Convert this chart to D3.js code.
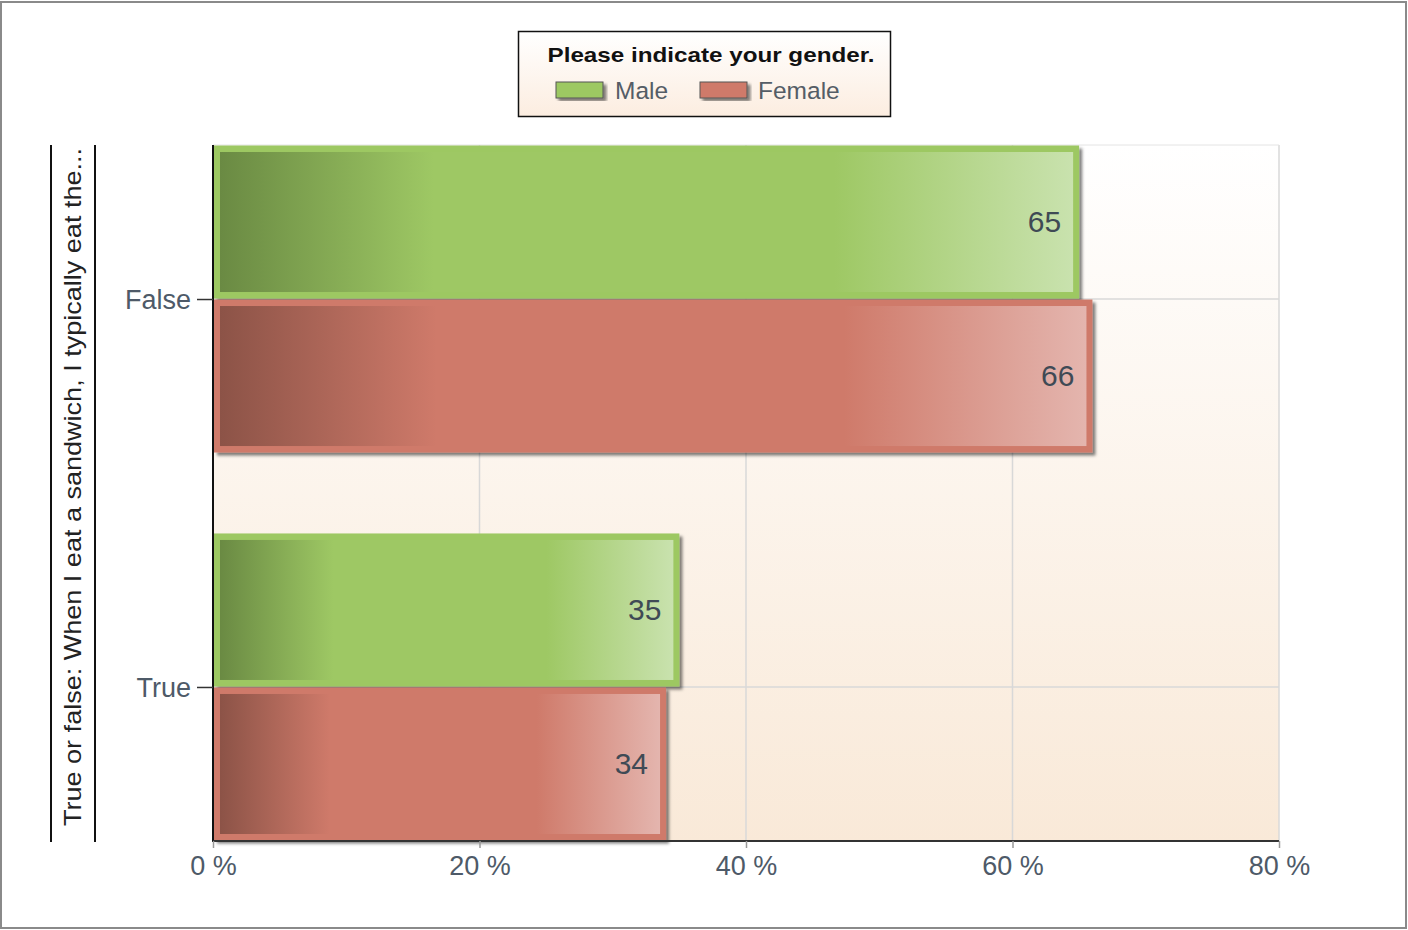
<!DOCTYPE html>
<html><head><meta charset="utf-8">
<script src="https://cdn.jsdelivr.net/npm/d3@7"></script>
<style>html,body{margin:0;padding:0;background:#fff;}svg{display:block;font-family:"Liberation Sans",Arial,sans-serif;}</style>
</head><body>
<script>
const categories = ["False", "True"];
const seriesNames = ["Male", "Female"];
const maleValues = [65, 35];
const femaleValues = [66, 34];
const xTicks = [0, 20, 40, 60, 80];
const legendTitle = "Please indicate your gender.";
const yTitle = "True or false: When I eat a sandwich, I typically eat the...";

const W = 1408, H = 930;
const svg = d3.select("body").append("svg").attr("width", W).attr("height", H);
const defs = svg.append("defs");

const palette = {
  Male:   {border:"#9dc862", dark:"#6a8a43", mid:"#9ec864", light:"#c9e2ae"},
  Female: {border:"#cf7a6a", dark:"#8c5347", mid:"#cf7a6a", light:"#e4b5ae"}
};
seriesNames.forEach(s => {
  const g = defs.append("linearGradient").attr("id","grad"+s).attr("x1","0").attr("x2","1").attr("y1","0").attr("y2","0");
  g.append("stop").attr("offset","0").attr("stop-color",palette[s].dark);
  g.append("stop").attr("offset","0.25").attr("stop-color",palette[s].mid);
  g.append("stop").attr("offset","0.72").attr("stop-color",palette[s].mid);
  g.append("stop").attr("offset","1").attr("stop-color",palette[s].light);
});
const bg = defs.append("linearGradient").attr("id","plotBg").attr("x1","0").attr("x2","0").attr("y1","0").attr("y2","1");
bg.append("stop").attr("offset","0").attr("stop-color","#ffffff");
bg.append("stop").attr("offset","1").attr("stop-color","#f9e9d8");
const lg = defs.append("linearGradient").attr("id","legBg").attr("x1","0").attr("x2","0").attr("y1","0").attr("y2","1");
lg.append("stop").attr("offset","0").attr("stop-color","#ffffff");
lg.append("stop").attr("offset","1").attr("stop-color","#fcede0");
const f = defs.append("filter").attr("id","shadow").attr("x","-5%").attr("y","-5%").attr("width","115%").attr("height","120%");
f.append("feDropShadow").attr("dx",3).attr("dy",3).attr("stdDeviation",1.8).attr("flood-color","#000").attr("flood-opacity",0.5);

// outer border
svg.append("rect").attr("x",1).attr("y",2).attr("width",W-3).attr("height",H-4)
  .attr("fill","none").attr("stroke","#8a8a8a").attr("stroke-width",2);

const plot = {left:213, right:1279, top:145, bottom:841};
const x = d3.scaleLinear().domain([0,80]).range([plot.left, plot.right]);
const y = d3.scaleBand().domain(categories).range([plot.top, plot.bottom]).paddingInner(0.206).paddingOuter(0);
const ys = d3.scaleBand().domain(seriesNames).range([0, y.bandwidth()]);

// plot background
svg.append("rect").attr("x",plot.left).attr("y",plot.top).attr("width",plot.right-plot.left).attr("height",plot.bottom-plot.top).attr("fill","url(#plotBg)");

// grid
const grid = svg.append("g");
grid.selectAll(".vg").data(xTicks.slice(1)).join("line")
  .attr("x1",d=>x(d)).attr("x2",d=>x(d)).attr("y1",plot.top).attr("y2",plot.bottom)
  .attr("stroke","#d8d8d8").attr("stroke-width",1.5);
grid.selectAll(".hg").data(categories).join("line")
  .attr("x1",plot.left).attr("x2",plot.right)
  .attr("y1",d=>y(d)+y.bandwidth()/2).attr("y2",d=>y(d)+y.bandwidth()/2)
  .attr("stroke","#d8d8d8").attr("stroke-width",1.5);
grid.append("line").attr("x1",plot.left).attr("x2",plot.right).attr("y1",plot.top).attr("y2",plot.top)
  .attr("stroke","#e4e4e4").attr("stroke-width",1);

// bars
const rows = [];
categories.forEach((c,i) => {
  rows.push({cat:c, s:"Male", v:maleValues[i]});
  rows.push({cat:c, s:"Female", v:femaleValues[i]});
});
const bars = svg.append("g").selectAll("g").data(rows).join("g");
const inset = 7;
bars.append("rect")
  .attr("x",x(0)+1).attr("y",d=>y(d.cat)+ys(d.s)+0.5)
  .attr("width",d=>x(d.v)-x(0)-1).attr("height",ys.bandwidth()-1)
  .attr("fill",d=>palette[d.s].border).attr("filter","url(#shadow)");
bars.append("rect")
  .attr("x",x(0)+inset).attr("y",d=>y(d.cat)+ys(d.s)+inset)
  .attr("width",d=>x(d.v)-x(0)-2*inset+1).attr("height",ys.bandwidth()-2*inset)
  .attr("fill",d=>"url(#grad"+d.s+")");
bars.append("text")
  .attr("x",d=>x(d.v)-18).attr("y",d=>y(d.cat)+ys(d.s)+ys.bandwidth()/2+10)
  .attr("text-anchor","end").attr("font-size",30).attr("fill","#3f4a55")
  .text(d=>d.v);

// axes lines
svg.append("line").attr("x1",plot.left).attr("x2",plot.left).attr("y1",plot.top).attr("y2",plot.bottom+1)
  .attr("stroke","#111").attr("stroke-width",2);
svg.append("line").attr("x1",plot.left).attr("x2",plot.right).attr("y1",plot.bottom).attr("y2",plot.bottom)
  .attr("stroke","#333").attr("stroke-width",2);

// y axis ticks
const yAxis = svg.append("g").attr("transform",`translate(${plot.left},0)`)
  .call(d3.axisLeft(d3.scalePoint().domain(categories).range([y(categories[0])+y.bandwidth()/2, y(categories[1])+y.bandwidth()/2])).tickSize(16).tickPadding(6));
yAxis.select(".domain").remove();
yAxis.selectAll(".tick line").attr("stroke","#333").attr("stroke-width",1.5);
yAxis.selectAll(".tick text").attr("font-size",27).attr("fill","#4e5a68").attr("font-family","Liberation Sans, Arial, sans-serif").attr("dy","0.36em");

// x axis ticks
const xAxis = svg.append("g").attr("transform",`translate(0,${plot.bottom})`)
  .call(d3.axisBottom(x).tickValues(xTicks).tickSize(7).tickPadding(8).tickFormat(d=>d+" %"));
xAxis.select(".domain").remove();
xAxis.selectAll(".tick line").attr("stroke","#999").attr("stroke-width",1.5);
xAxis.selectAll(".tick text").attr("font-size",27).attr("fill","#4e5a68").attr("font-family","Liberation Sans, Arial, sans-serif");

// y title
svg.append("line").attr("x1",51).attr("x2",51).attr("y1",145).attr("y2",842).attr("stroke","#111").attr("stroke-width",2);
svg.append("line").attr("x1",95).attr("x2",95).attr("y1",145).attr("y2",842).attr("stroke","#111").attr("stroke-width",2);
svg.append("text").attr("transform","translate(81,487) rotate(-90)")
  .attr("text-anchor","middle").attr("font-size",24).attr("fill","#222")
  .attr("textLength",678).attr("lengthAdjust","spacingAndGlyphs")
  .text(yTitle);

// legend
const leg = svg.append("g");
leg.append("rect").attr("x",518.5).attr("y",31.5).attr("width",372).attr("height",85)
  .attr("fill","url(#legBg)").attr("stroke","#111").attr("stroke-width",1.5);
leg.append("text").attr("x",711).attr("y",62).attr("text-anchor","middle")
  .attr("font-size",21).attr("font-weight","bold").attr("fill","#111")
  .attr("textLength",327).attr("lengthAdjust","spacingAndGlyphs").text(legendTitle);
const legItems = [{s:"Male", sx:556, tx:615}, {s:"Female", sx:700, tx:758}];
legItems.forEach(it => {
  leg.append("rect").attr("x",it.sx).attr("y",82).attr("width",47).attr("height",16)
    .attr("fill",palette[it.s].border).attr("stroke","#555").attr("stroke-width",1)
    .attr("filter","url(#shadow)");
  leg.append("text").attr("x",it.tx).attr("y",99).attr("font-size",24.5).attr("fill","#555d66").text(it.s);
});
</script>
</body></html>
